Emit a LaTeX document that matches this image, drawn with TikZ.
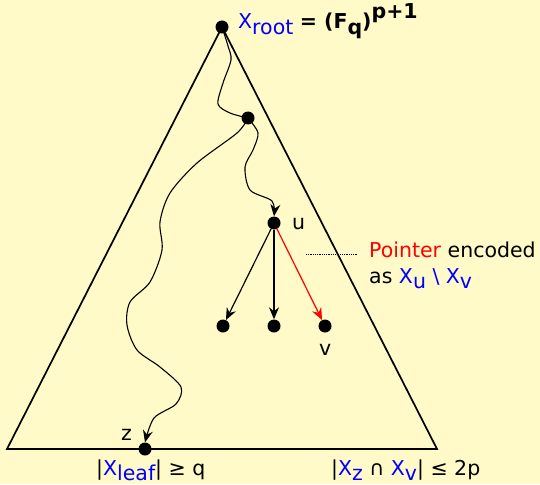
\documentclass[tikz,border=0pt]{standalone}
\usepackage{fontspec}
\setmainfont{DejaVu Sans}
\usetikzlibrary{arrows.meta}
\definecolor{paper}{RGB}{255,250,200}
\newcommand\lowsub[1]{\raisebox{-0.27em}{#1}}
\newcommand\highsup[1]{\raisebox{0.5em}{#1}}
\begin{document}
\begin{tikzpicture}[x=1pt,y=-1pt,>={Stealth[length=12pt,width=10pt,inset=4pt]},
  every node/.style={font=\fontsize{20.5}{24}\selectfont},
  dot/.style={circle,fill=black,inner sep=0pt,minimum size=13pt},
  lbl/.style={anchor=base west,inner sep=0pt},
  wiggle/.style={line width=1.1pt}]
\useasboundingbox (0,0) rectangle (540,484);
\fill[paper] (0,0) rectangle (540,484);
% tree nodes
\node[dot] (root) at (222,27) {};
\node[dot] (mid) at (248,118) {};
\node[dot] (u) at (274,223) {};
\node[dot] (c1) at (223,326) {};
\node[dot] (c2) at (274,326) {};
\node[dot] (v) at (325,326) {};
\node[dot] (z) at (145,449) {};
\coordinate (bl) at (7,449);
\coordinate (br) at (437,449);
\draw[line width=1.7pt] (root.center) -- (bl) -- (br) -- cycle;
% paths down the tree
\draw[wiggle] plot[smooth] coordinates {(root.center) (228,46) (231,60) (223,83) (218,104) (230,113) (mid.center)};
\draw[wiggle,->] plot[smooth] coordinates {(mid.center) (258,133) (253,150) (245,167) (250,190) (272,201) (u.north)};
\draw[wiggle,->] plot[smooth] coordinates {(mid.center) (237,133) (197,163) (170,193) (160,222) (162,250) (150,282) (130,302) (127,325) (137,350) (160,367) (181,387) (176,404) (154,418) (z.north)};
\draw[line width=1.2pt,->] (u) -- (c1);
\draw[line width=1.2pt,->] (u) -- (c2);
\draw[line width=1.2pt,red,->] (u) -- (v);
% labels
\node[lbl] (ulbl) at (292,229) {u};
\node[lbl] (vlbl) at (319,355) {v};
\node[lbl] (zlbl) at (121,440) {z};
\node[lbl] (top) at (238,29) {{\color{blue}X\lowsub{root}} \textbf{= (F\lowsub{q})\highsup{p+1}}};
\coordinate (ptrA) at (306,254);
\coordinate (ptrB) at (357,254);
\draw[densely dotted,line width=0.8pt] (ptrA) -- (ptrB);
\node[lbl] (ptr) at (369,257) {{\color{red}Pointer} encoded};
\node[lbl] (enc) at (369,283) {as {\color{blue}X\lowsub{u} \textbackslash{} X\lowsub{v}}};
\node[lbl] (leaf) at (96,475) {|{\color{blue}X\lowsub{leaf}}| ≥ q};
\node[lbl] (meet) at (331,475) {|{\color{blue}X\lowsub{z}} ∩ {\color{blue}X\lowsub{v}}| ≤ 2p};
\end{tikzpicture}
\end{document}
